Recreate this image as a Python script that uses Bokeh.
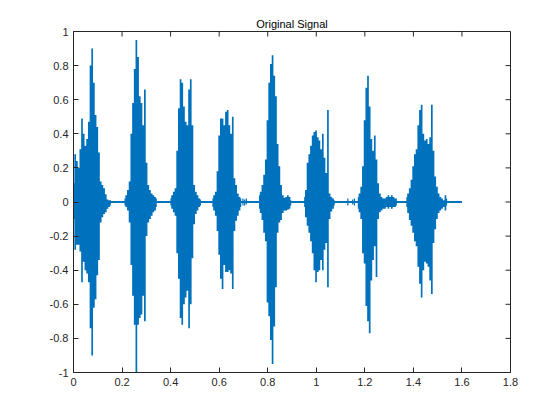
import math
from bokeh.plotting import figure
from bokeh.models import Range1d, FixedTicker, PrintfTickFormatter
from bokeh.embed import file_html
from bokeh.resources import INLINE

# ---- data (time in s, upper / lower envelope) ----
t1 = [0.000, 0.007, 0.014, 0.021, 0.028, 0.035, 0.042, 0.049, 0.056, 0.063, 0.070, 0.077,
      0.084, 0.091, 0.098, 0.105, 0.112, 0.119, 0.126, 0.133, 0.140, 0.147, 0.154]
hi1 = [0.11, 0.28, 0.24, 0.20, 0.31, 0.49, 0.40, 0.33, 0.37, 0.47, 0.80, 0.90,
       0.70, 0.51, 0.44, 0.29, 0.12, 0.10, 0.08, 0.045, 0.015, 0.01, 0.01]
lo1 = [-0.10, -0.28, -0.25, -0.25, -0.29, -0.47, -0.35, -0.40, -0.42, -0.47, -0.74, -0.90,
       -0.62, -0.57, -0.43, -0.34, -0.12, -0.09, -0.07, -0.06, -0.04, -0.03, -0.02]

t2 = [0.210, 0.217, 0.224, 0.231, 0.238, 0.245, 0.252, 0.259, 0.266, 0.273, 0.280, 0.287,
      0.294, 0.301, 0.308, 0.315, 0.322, 0.329, 0.336, 0.343]
hi2 = [0.02, 0.04, 0.07, 0.12, 0.40, 0.58, 0.78, 0.95, 0.85, 0.62, 0.58, 0.45,
       0.66, 0.23, 0.10, 0.07, 0.05, 0.04, 0.03, 0.02]
lo2 = [-0.02, -0.03, -0.05, -0.12, -0.37, -0.55, -0.72, -1.00, -0.72, -0.68, -0.66, -0.55,
       -0.70, -0.20, -0.12, -0.10, -0.08, -0.06, -0.05, -0.03]

t3 = [0.399, 0.406, 0.413, 0.420, 0.427, 0.434, 0.441, 0.448, 0.455, 0.462, 0.469, 0.476,
      0.483, 0.490, 0.497, 0.504, 0.511, 0.518, 0.525]
hi3 = [0.02, 0.04, 0.06, 0.08, 0.30, 0.55, 0.72, 0.70, 0.56, 0.47, 0.45, 0.66,
       0.72, 0.45, 0.10, 0.06, 0.04, 0.02, 0.015]
lo3 = [-0.02, -0.04, -0.06, -0.08, -0.30, -0.45, -0.68, -0.72, -0.60, -0.56, -0.52, -0.74,
       -0.60, -0.33, -0.13, -0.07, -0.05, -0.03, -0.02]

t4 = [0.572, 0.579, 0.586, 0.593, 0.600, 0.607, 0.614, 0.621, 0.628, 0.635, 0.642, 0.649,
      0.656, 0.663, 0.670, 0.677, 0.684, 0.691]
hi4 = [0.02, 0.04, 0.06, 0.18, 0.39, 0.49, 0.49, 0.45, 0.53, 0.54, 0.45, 0.40,
       0.50, 0.14, 0.10, 0.05, 0.03, 0.02]
lo4 = [-0.03, -0.05, -0.08, -0.17, -0.31, -0.45, -0.51, -0.37, -0.41, -0.41, -0.40, -0.42,
       -0.51, -0.17, -0.11, -0.08, -0.05, -0.03]

t5 = [0.764, 0.771, 0.778, 0.785, 0.792, 0.799, 0.806, 0.813, 0.820, 0.827, 0.834, 0.841,
      0.848, 0.855, 0.862, 0.869, 0.876, 0.883, 0.890, 0.897]
hi5 = [0.04, 0.06, 0.10, 0.16, 0.25, 0.48, 0.70, 0.81, 0.86, 0.74, 0.62, 0.34,
       0.21, 0.10, 0.04, 0.025, 0.03, 0.04, 0.03, 0.01]
lo5 = [-0.04, -0.065, -0.105, -0.18, -0.23, -0.59, -0.67, -0.81, -0.95, -0.73, -0.50, -0.18,
       -0.12, -0.105, -0.065, -0.05, -0.05, -0.045, -0.04, -0.02]

t6 = [0.950, 0.957, 0.964, 0.971, 0.978, 0.985, 0.992, 0.999, 1.006, 1.013, 1.020, 1.027,
      1.034, 1.041, 1.048, 1.055, 1.062, 1.069, 1.076]
hi6 = [0.03, 0.07, 0.23, 0.28, 0.33, 0.39, 0.41, 0.42, 0.38, 0.36, 0.31, 0.40,
       0.26, 0.17, 0.54, 0.05, 0.03, 0.02, 0.01]
lo6 = [-0.03, -0.09, -0.14, -0.18, -0.23, -0.30, -0.40, -0.47, -0.41, -0.40, -0.34, -0.40,
       -0.28, -0.24, -0.50, -0.10, -0.055, -0.04, -0.02]

t7 = [1.171, 1.178, 1.185, 1.192, 1.199, 1.206, 1.213, 1.220, 1.227, 1.234, 1.241, 1.248,
      1.255, 1.262, 1.269, 1.276, 1.283, 1.290, 1.297, 1.304, 1.311, 1.318, 1.325, 1.332]
hi7 = [0.03, 0.05, 0.09, 0.21, 0.48, 0.67, 0.74, 0.56, 0.37, 0.30, 0.39, 0.25,
       0.11, 0.05, 0.03, 0.02, 0.02, 0.03, 0.04, 0.03, 0.04, 0.03, 0.02, 0.02]
lo7 = [-0.04, -0.06, -0.10, -0.30, -0.36, -0.61, -0.70, -0.77, -0.46, -0.34, -0.26, -0.44,
       -0.10, -0.06, -0.05, -0.04, -0.04, -0.03, -0.04, -0.03, -0.04, -0.03, -0.03, -0.02]

t8 = [1.371, 1.378, 1.385, 1.392, 1.399, 1.406, 1.413, 1.420, 1.427, 1.434, 1.441, 1.448,
      1.455, 1.462, 1.469, 1.476, 1.483, 1.490, 1.497, 1.504, 1.511, 1.518, 1.525, 1.532, 1.539]
hi8 = [0.03, 0.05, 0.08, 0.13, 0.21, 0.28, 0.31, 0.45, 0.54, 0.57, 0.40, 0.36,
       0.37, 0.34, 0.38, 0.57, 0.30, 0.15, 0.09, 0.05, 0.03, 0.02, 0.01, 0.04, 0.02]
lo8 = [-0.03, -0.065, -0.105, -0.14, -0.18, -0.23, -0.26, -0.38, -0.48, -0.56, -0.40, -0.35,
       -0.36, -0.38, -0.46, -0.54, -0.24, -0.16, -0.10, -0.065, -0.05, -0.04, -0.03, -0.05, -0.02]

noise_t = [0.698, 0.705, 0.712, 1.130, 1.150, 1.157]
noise_hi = [0.02, 0.015, 0.02, 0.02, 0.015, 0.02]
noise_lo = [-0.02, -0.02, -0.015, -0.02, -0.015, -0.02]

signal_start, signal_end = 0.0, 1.6

x_ticks = [0, 0.2, 0.4, 0.6, 0.8, 1, 1.2, 1.4, 1.6, 1.8]
y_ticks = [-1, -0.8, -0.6, -0.4, -0.2, 0, 0.2, 0.4, 0.6, 0.8, 1]
x_lim = (0, 1.8)
y_lim = (-1, 1)

title_text = "Original Signal"

# ---- figure ----
BLUE = "#0072BD"
DARK = "#262626"
FONT = "Liberation Sans"

p = figure(width=559, height=418, output_backend="svg", toolbar_location=None,
           x_range=Range1d(*x_lim), y_range=Range1d(*y_lim),
           min_border_left=73, min_border_right=49, min_border_top=31, min_border_bottom=46,
           title=title_text)
p.background_fill_color = "white"
p.border_fill_color = "white"
p.xgrid.visible = False
p.ygrid.visible = False
p.outline_line_color = DARK
p.outline_line_width = 1

p.title.align = "center"
p.title.text_font = FONT
p.title.text_font_size = "11px"
p.title.text_font_style = "normal"
p.title.text_color = "black"
p.title.standoff = 3

# baseline of the signal
p.line([signal_start, signal_end], [0, 0], line_color=BLUE, line_width=2)

for tt, hh, ll in [(t1, hi1, lo1), (t2, hi2, lo2), (t3, hi3, lo3), (t4, hi4, lo4),
                   (t5, hi5, lo5), (t6, hi6, lo6), (t7, hi7, lo7), (t8, hi8, lo8)]:
    p.varea_step(x=tt, y1=ll, y2=hh, step_mode="center", fill_color=BLUE)
p.vbar(x=noise_t, top=noise_hi, bottom=noise_lo, width=0.005, fill_color=BLUE, line_color=None)

# inward ticks on top and right edges of the box
p.ray(x=x_ticks, y=[y_lim[1]] * len(x_ticks), length=5, length_units="screen",
      angle=-math.pi / 2, line_color=DARK, line_width=1)
p.ray(x=[x_lim[1]] * len(y_ticks), y=y_ticks, length=5, length_units="screen",
      angle=math.pi, line_color=DARK, line_width=1)

xa = p.xaxis[0]
ya = p.yaxis[0]
xa.ticker = FixedTicker(ticks=x_ticks)
ya.ticker = FixedTicker(ticks=y_ticks)
for ax in [xa, ya]:
    ax.formatter = PrintfTickFormatter(format="%g")
    ax.major_tick_in = 5
    ax.major_tick_out = 0
    ax.minor_tick_line_color = None
    ax.major_tick_line_color = DARK
    ax.axis_line_color = DARK
    ax.major_label_text_font = FONT
    ax.major_label_text_font_size = "11px"
    ax.major_label_text_color = DARK
    ax.major_label_standoff = 5

open("out.html", "w").write(file_html(p, INLINE))
